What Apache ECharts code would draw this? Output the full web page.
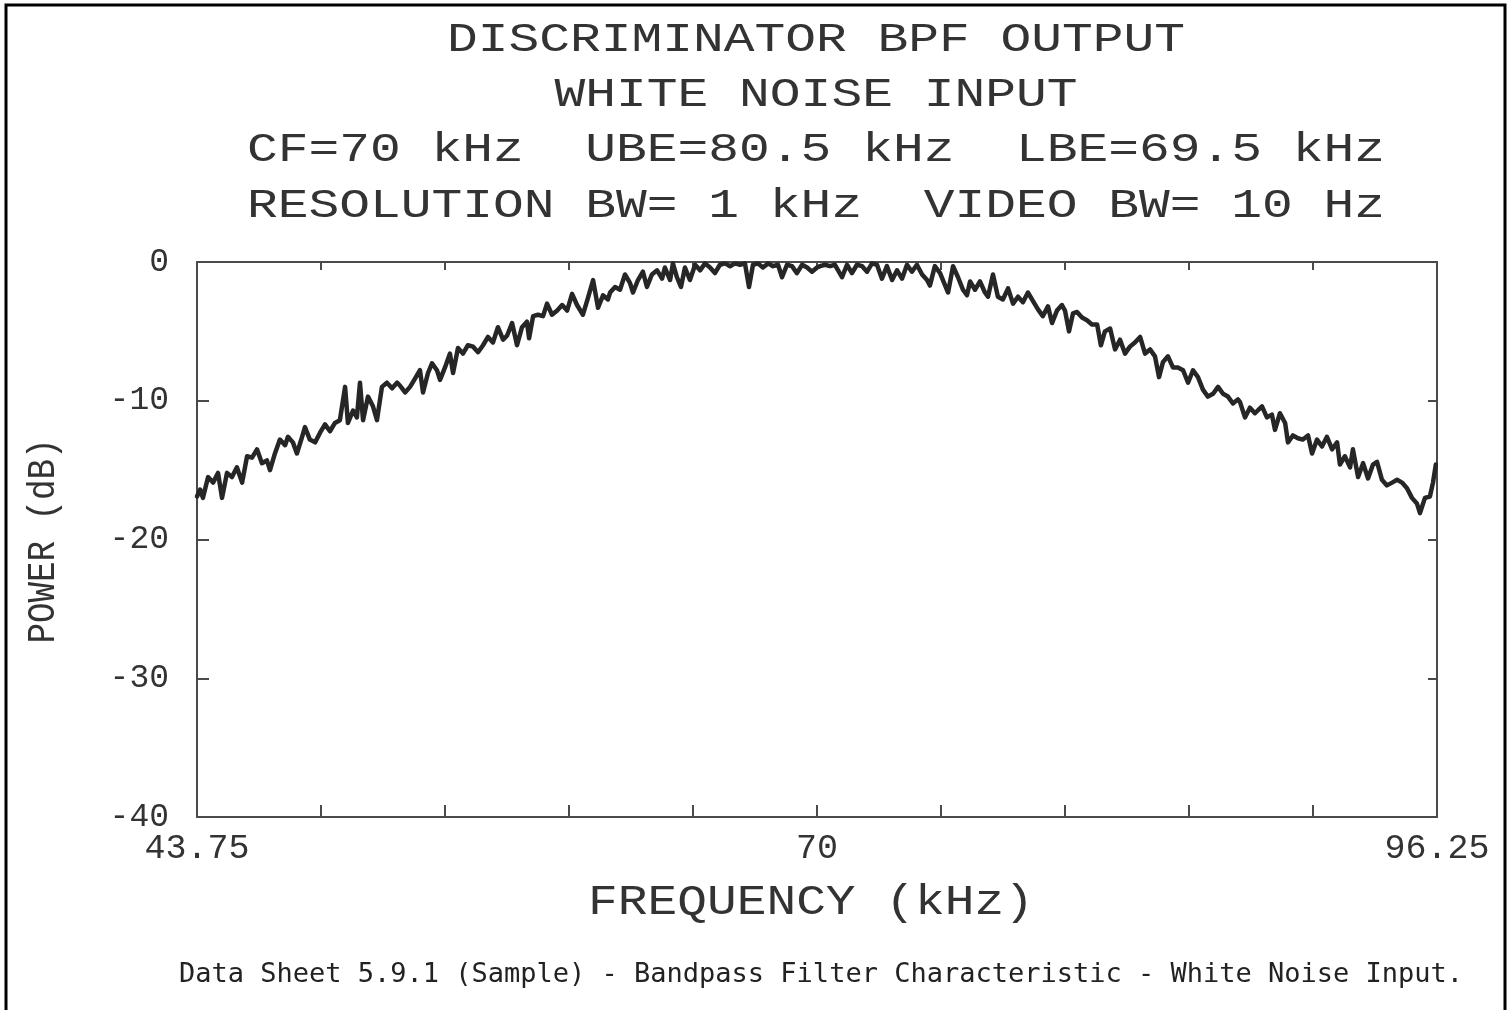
<!DOCTYPE html>
<html>
<head>
<meta charset="utf-8">
<script src="https://cdn.jsdelivr.net/npm/echarts@6/dist/echarts.min.js"></script>
<style>
html,body{margin:0;padding:0;background:#fff;}
#chart{width:1510px;height:1010px;}
</style>
</head>
<body>
<div id="chart"></div>
<script>
// Frequency (kHz) sample positions
const freq = [
43.75,43.88,44.00,44.22,44.43,44.64,44.81,45.02,45.23,45.44,45.66,45.87,46.08,46.29,46.50,46.71,46.84,47.05,47.26,47.48,47.60,47.81,47.98,48.20,48.32,48.53,48.75,48.96,49.17,49.38,49.59,49.80,50.02,50.14,50.36,50.52,50.65,50.78,50.99,51.20,51.37,51.58,51.79,52.01,52.22,
52.34,52.56,52.77,52.98,53.19,53.32,53.53,53.70,53.91,54.04,54.25,54.46,54.59,54.80,55.01,55.22,55.44,55.65,55.86,56.07,56.28,56.49,56.71,56.88,57.09,57.30,57.51,57.72,57.81,57.98,58.19,58.40,58.57,58.78,59.00,59.21,59.42,59.63,59.84,60.09,60.30,60.52,60.73,60.94,61.15,
61.24,61.45,61.66,61.87,62.08,62.21,62.42,62.63,62.80,63.01,63.23,63.44,63.56,63.78,63.90,64.07,64.24,64.41,64.62,64.84,65.05,65.26,65.47,65.68,65.89,66.11,66.32,66.53,66.74,66.95,67.12,67.29,67.50,67.71,67.93,68.14,68.35,68.52,68.73,68.94,69.15,69.37,69.58,69.79,70.00,
70.13,70.34,70.55,70.76,71.06,71.27,71.48,71.69,71.91,72.12,72.33,72.54,72.75,72.96,73.18,73.39,73.60,73.81,74.02,74.23,74.45,74.66,74.78,74.99,75.21,75.38,75.55,75.76,75.97,76.18,76.35,76.48,76.69,76.90,77.11,77.24,77.45,77.66,77.87,78.09,78.30,78.51,78.72,78.93,
79.14,79.35,79.56,79.78,79.95,80.16,80.37,80.50,80.67,80.84,81.01,81.22,81.43,81.64,81.86,82.02,82.19,82.41,82.62,82.83,83.04,83.25,83.46,83.68,83.89,84.10,84.31,84.48,84.65,84.86,85.07,85.28,85.50,85.71,85.92,86.13,86.34,86.55,86.77,86.98,87.19,87.40,87.61,87.82,
87.91,88.12,88.33,88.54,88.84,89.05,89.26,89.39,89.60,89.82,89.94,90.15,90.36,90.57,90.79,90.96,91.17,91.38,91.59,91.81,92.02,92.14,92.35,92.57,92.69,92.91,93.12,93.33,93.54,93.71,93.92,94.13,94.35,94.56,94.77,94.98,95.19,95.40,95.53,95.74,95.95,96.08,96.20
];
// Power (dB)
const power = [
-16.9,-16.4,-17.0,-15.5,-15.9,-15.2,-17.0,-15.2,-15.5,-14.8,-15.9,-14.0,-14.1,-13.5,-14.5,-14.3,-15.0,-13.8,-12.8,-13.2,-12.6,-13.0,-13.8,-12.6,-11.9,-12.8,-13.0,-12.3,-11.7,-12.2,-11.6,-11.4,-9.0,-11.6,-10.7,-11.2,-8.7,-11.4,-9.7,-10.4,-11.4,-9.0,-8.7,-9.1,-8.7,
-8.9,-9.4,-9.0,-8.4,-7.8,-9.4,-8.0,-7.3,-7.8,-8.5,-7.6,-6.6,-8.0,-6.2,-6.6,-6.0,-6.1,-6.5,-6.0,-5.4,-5.8,-4.7,-5.6,-5.3,-4.4,-6.0,-4.7,-4.3,-5.5,-3.9,-3.8,-3.9,-3.0,-3.8,-3.5,-3.1,-3.5,-2.3,-3.1,-3.8,-2.6,-1.3,-3.3,-2.4,-2.7,
-2.2,-1.8,-2.0,-0.9,-1.5,-2.2,-1.3,-0.7,-1.8,-0.9,-0.6,-1.2,-0.4,-1.3,-0.1,-1.1,-1.8,-0.4,-1.3,-0.2,-0.6,-0.1,-0.4,-0.8,-0.2,-0.1,-0.3,-0.1,-0.2,-0.1,-1.8,-0.2,-0.1,-0.4,-0.1,-0.3,-0.2,-1.1,-0.2,-0.3,-0.8,-0.2,-0.4,-0.7,-0.4,
-0.3,-0.2,-0.3,-0.2,-1.1,-0.2,-0.8,-0.2,-0.3,-0.7,-0.1,-0.2,-1.2,-0.3,-1.3,-0.6,-1.2,-0.2,-0.7,-0.2,-0.9,-1.3,-1.7,-0.3,-0.8,-1.5,-2.2,-0.3,-1.1,-2.0,-2.4,-1.4,-2.0,-1.4,-2.2,-2.5,-0.9,-2.5,-2.7,-1.9,-3.0,-2.5,-2.9,-2.2,
-2.8,-3.4,-3.9,-3.2,-4.4,-3.5,-3.1,-3.5,-5.0,-3.7,-3.6,-4.0,-4.2,-4.5,-4.5,-6.0,-5.0,-4.8,-6.3,-5.6,-6.6,-6.1,-5.8,-5.4,-6.6,-6.3,-6.8,-8.3,-7.2,-6.8,-7.6,-7.6,-7.8,-8.7,-7.8,-8.3,-9.2,-9.7,-9.5,-9.0,-9.5,-9.7,-10.2,-9.9,
-10.1,-11.2,-10.5,-10.9,-10.4,-11.2,-11.0,-12.1,-10.9,-11.6,-13.0,-12.5,-12.7,-12.8,-12.5,-13.8,-12.8,-13.3,-12.6,-13.5,-13.0,-14.6,-14.0,-14.8,-13.5,-15.5,-14.5,-15.6,-14.6,-14.4,-15.7,-16.1,-15.9,-15.7,-15.9,-16.3,-17.0,-17.4,-18.1,-17.0,-16.9,-15.9,-14.6
];
// Axis ticks and labels
const xTickValues = [43.75,49,54.25,59.5,64.75,70,75.25,80.5,85.75,91,96.25];
const xLabelValues = [43.75,70,96.25];
const xLabelTexts = ['43.75','70','96.25'];
const yTickValues = [-40,-30,-20,-10,0];

// Texts
const titleLines = [
  'DISCRIMINATOR BPF OUTPUT',
  'WHITE NOISE INPUT',
  'CF=70 kHz  UBE=80.5 kHz  LBE=69.5 kHz',
  'RESOLUTION BW= 1 kHz  VIDEO BW= 10 Hz'
];
const xAxisName = 'FREQUENCY (kHz)';
const yAxisName = 'POWER (dB)';
const footerText = 'Data Sheet 5.9.1 (Sample) - Bandpass Filter Characteristic - White Noise Input.';

const pts = [];
const n = Math.min(freq.length, power.length);
for (let i = 0; i < n; i++) pts.push([freq[i], power[i]]);

const MONO = "'Liberation Mono','DejaVu Sans Mono',monospace";
const INK = '#333333';
const FRAME = '#4a4a4a';

const chart = echarts.init(document.getElementById('chart'), null, {renderer: 'canvas'});

const titleY = [40, 95, 150, 206];
const titleGraphics = titleLines.map((t, i) => ({
  type: 'text',
  x: 816, y: titleY[i],
  scaleX: 1.25,
  style: {
    text: t,
    font: '41px ' + MONO,
    fill: INK,
    textAlign: 'center',
    textVerticalAlign: 'middle'
  },
  z: 10
}));

chart.setOption({
  animation: false,
  backgroundColor: '#ffffff',
  grid: {left: 197, right: 73, top: 262, bottom: 193, containLabel: false},
  xAxis: [
    {
      type: 'value', position: 'bottom', min: 43.75, max: 96.25,
      axisLine: {show: true, onZero: false, lineStyle: {color: FRAME, width: 2}},
      axisTick: {show: true, inside: true, length: 12, customValues: xTickValues, lineStyle: {color: FRAME, width: 2}},
      axisLabel: {
        show: true, customValues: xLabelValues, margin: 14,
        fontFamily: MONO, fontSize: 35, color: INK,
        formatter: function (v) {
          const k = xLabelValues.indexOf(v);
          return k >= 0 ? xLabelTexts[k] : '';
        }
      },
      splitLine: {show: false}
    },
    {
      type: 'value', position: 'top', min: 43.75, max: 96.25,
      axisLine: {show: true, onZero: false, lineStyle: {color: FRAME, width: 2}},
      axisTick: {show: true, inside: true, length: 8, customValues: xTickValues, lineStyle: {color: FRAME, width: 2}},
      axisLabel: {show: false},
      splitLine: {show: false}
    }
  ],
  yAxis: [
    {
      type: 'value', position: 'left', min: -40, max: 0, interval: 10,
      axisLine: {show: true, onZero: false, lineStyle: {color: FRAME, width: 2}},
      axisTick: {show: true, inside: true, length: 12, customValues: yTickValues, lineStyle: {color: FRAME, width: 2}},
      axisLabel: {show: true, margin: 28, fontFamily: MONO, fontSize: 33, color: INK},
      splitLine: {show: false}
    },
    {
      type: 'value', position: 'right', min: -40, max: 0, interval: 10,
      axisLine: {show: true, onZero: false, lineStyle: {color: FRAME, width: 2}},
      axisTick: {show: true, inside: true, length: 9, customValues: yTickValues, lineStyle: {color: FRAME, width: 2}},
      axisLabel: {show: false},
      splitLine: {show: false}
    }
  ],
  series: [{
    type: 'line',
    xAxisIndex: 0, yAxisIndex: 0,
    data: pts,
    showSymbol: false,
    smooth: false,
    lineStyle: {color: '#262626', width: 4.5, join: 'round', cap: 'round'},
    z: 5
  }],
  graphic: [
    {
      type: 'rect', shape: {x: 6, y: 5, width: 1499, height: 1012},
      style: {fill: 'none', stroke: '#000', lineWidth: 3}, z: 20
    }
  ].concat(titleGraphics).concat([
    {
      type: 'text', x: 811, y: 903, scaleX: 1.18,
      style: {text: xAxisName, font: '42px ' + MONO, fill: INK, textAlign: 'center', textVerticalAlign: 'middle'}
    },
    {
      type: 'text', x: 44, y: 541, rotation: Math.PI / 2, scaleX: 0.9,
      style: {text: yAxisName, font: '38px ' + MONO, fill: INK, textAlign: 'center', textVerticalAlign: 'middle'}
    },
    {
      type: 'text', x: 821, y: 975,
      style: {text: footerText, font: "27px 'DejaVu Sans Mono','Liberation Mono',monospace", fill: '#222222', textAlign: 'center', textVerticalAlign: 'middle'}
    }
  ])
});
</script>
</body>
</html>
